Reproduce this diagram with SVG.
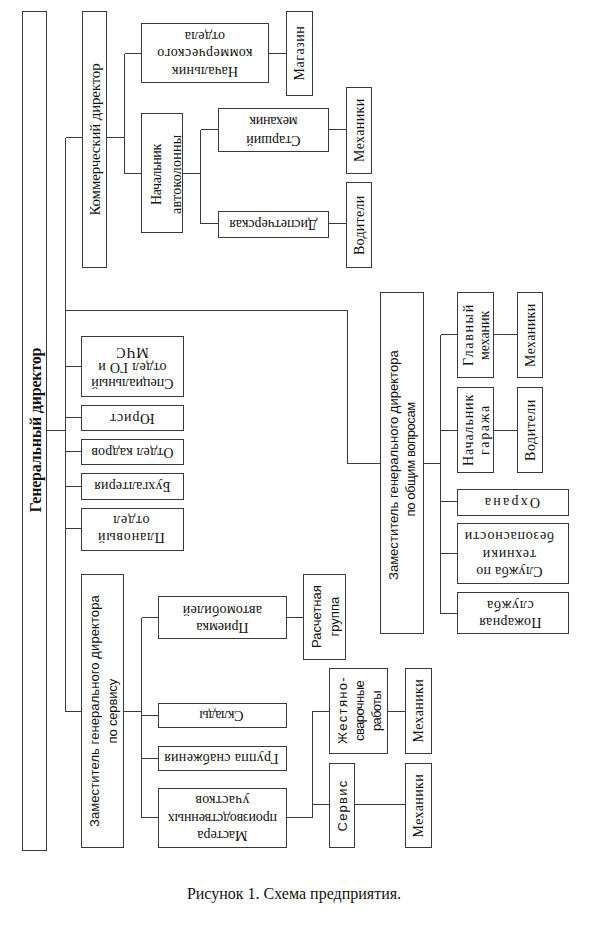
<svg xmlns="http://www.w3.org/2000/svg" width="591" height="932" viewBox="0 0 591 932">
<style>
.bg{fill:#fff}
.b{fill:#fff;stroke:#3a3a3a;stroke-width:1;shape-rendering:crispEdges}
.c{fill:none;stroke:#3a3a3a;stroke-width:1;shape-rendering:crispEdges}
text{font-family:"Liberation Serif","Times New Roman",serif;font-size:14px;fill:#111;text-anchor:middle;dominant-baseline:central;letter-spacing:0.8px}
.s{font-family:"Liberation Sans",Arial,sans-serif;font-size:13px;letter-spacing:0.3px}
.g{font-weight:bold;font-size:16px;letter-spacing:0}
.cap{font-size:16px;letter-spacing:0;dominant-baseline:alphabetic}
</style>
<rect class="bg" x="0" y="0" width="591" height="932"/>
<g id="connectors">
<path class="c" d="M46.5 430.5H65.5M65.5 137.5V711.5M65.5 137.5H82.5M65.5 310.5H347.5V463.5H380.5M65.5 366.5H81.5M65.5 417.5H81.5M65.5 451.5H81.5M65.5 486.5H81.5M65.5 528.5H81.5M65.5 711.5H81.5"/>
<path class="c" d="M106.5 137.5H124.5M124.5 53.5V173.5M124.5 53.5H141.5M124.5 173.5H141.5M268.5 53.5H286.5M182.5 173.5H200.5M200.5 129.5V223.5M200.5 129.5H218.5M200.5 223.5H218.5M328.5 129.5H346.5M328.5 223.5H346.5"/>
<path class="c" d="M423.5 463.5H440.5M440.5 334.5V613.5M440.5 334.5H457.5M440.5 430.5H457.5M440.5 501.5H457.5M440.5 553.5H457.5M440.5 613.5H457.5M493.5 334.5H517.5M493.5 430.5H517.5"/>
<path class="c" d="M123.5 711.5H141.5M141.5 617.5V817.5M141.5 617.5H158.5M141.5 715.5H158.5M141.5 758.5H158.5M141.5 817.5H158.5M286.5 617.5H303.5M286.5 817.5H312.5V711.5H329.5M312.5 804.5H329.5M387.5 711.5H405.5M354.5 804.5H405.5"/>
</g>
<g id="gen-director"><rect class="b" x="22.5" y="11.5" width="24" height="839"/>
<text class="g" transform="translate(35,430) rotate(-90)" textLength="165">Генеральный директор</text></g>
<g id="comm-director"><rect class="b" x="82.5" y="11.5" width="24" height="256"/>
<text transform="translate(95,139) rotate(-90)" textLength="153" style="font-size:15px">Коммерческий директор</text></g>
<g id="head-comm-dept"><rect class="b" x="141.5" y="23.5" width="127" height="59"/>
<g transform="translate(204.5,53.5) rotate(180)"><text y="-17.5" textLength="67">Начальник</text><text y="0" textLength="96">коммерческого</text><text y="17.5" textLength="41">отдела</text></g></g>
<g id="shop"><rect class="b" x="286.5" y="11.5" width="26" height="84"/>
<text transform="translate(299.5,53) rotate(-90)" textLength="55">Магазин</text></g>
<g id="head-autocolumn"><rect class="b" x="141.5" y="113.5" width="41" height="119"/>
<g transform="translate(166.5,174) rotate(-90)"><text y="-10" textLength="62">Начальник</text><text y="10" textLength="80">автоколонны</text></g></g>
<g id="senior-mechanic"><rect class="b" x="218.5" y="108.5" width="110" height="43"/>
<g transform="translate(273,130.5) rotate(180)"><text y="-9.5" textLength="55">Старший</text><text y="9.5" textLength="49">механик</text></g></g>
<g id="dispatch"><rect class="b" x="218.5" y="211.5" width="110" height="26"/>
<text transform="translate(273,224.5) rotate(180)" textLength="89">Диспетчерская</text></g>
<g id="mechanics-1"><rect class="b" x="346.5" y="87.5" width="25" height="86"/>
<text transform="translate(359,130) rotate(-90)" textLength="64">Механики</text></g>
<g id="drivers-1"><rect class="b" x="346.5" y="182.5" width="25" height="85"/>
<text transform="translate(359,225) rotate(-90)" textLength="60">Водители</text></g>
<g id="special-dept"><rect class="b" x="81.5" y="336.5" width="102" height="60"/>
<g transform="translate(132,367.5) rotate(180)"><text y="-15.5" textLength="83">Специальный</text><text y="0" textLength="69">отдел ГО и</text><text y="15.5">МЧС</text></g></g>
<g id="lawyer"><rect class="b" x="81.5" y="405.5" width="102" height="25"/>
<text transform="translate(132,418) rotate(180)">Юрист</text></g>
<g id="hr"><rect class="b" x="81.5" y="439.5" width="102" height="25"/>
<text transform="translate(132,452) rotate(180)" textLength="83">Отдел кадров</text></g>
<g id="accounting"><rect class="b" x="81.5" y="473.5" width="102" height="26"/>
<text transform="translate(132,486.5) rotate(180)" textLength="77">Бухгалтерия</text></g>
<g id="planning"><rect class="b" x="81.5" y="508.5" width="102" height="42"/>
<g transform="translate(131,529) rotate(180)"><text y="-8.5">Плановый</text><text y="8.5">отдел</text></g></g>
<g id="deputy-general"><rect class="b" x="380.5" y="292.5" width="43" height="341"/>
<g transform="translate(401.5,463) rotate(-90)"><text class="s" x="-2" y="-8" textLength="230">Заместитель генерального директора</text><text class="s" x="4" y="8.5" textLength="115">по общим вопросам</text></g></g>
<g id="chief-mechanic"><rect class="b" x="457.5" y="292.5" width="36" height="85"/>
<g transform="translate(476,335) rotate(-90)"><text y="-7.5" textLength="62">Главный</text><text y="8" textLength="50">механик</text></g></g>
<g id="mechanics-2"><rect class="b" x="517.5" y="292.5" width="25" height="85"/>
<text transform="translate(530.5,335) rotate(-90)" textLength="64">Механики</text></g>
<g id="garage-head"><rect class="b" x="457.5" y="387.5" width="36" height="85"/>
<g transform="translate(476,430) rotate(-90)"><text y="-7.5" textLength="72">Начальник</text><text y="8" textLength="50">гаража</text></g></g>
<g id="drivers-2"><rect class="b" x="517.5" y="387.5" width="25" height="85"/>
<text transform="translate(530.5,430) rotate(-90)" textLength="62">Водители</text></g>
<g id="security"><rect class="b" x="457.5" y="489.5" width="111" height="26"/>
<text transform="translate(512,502.5) rotate(180)" textLength="56">Охрана</text></g>
<g id="safety"><rect class="b" x="457.5" y="523.5" width="111" height="60"/>
<g transform="translate(509,554) rotate(180)"><text y="-17.5" textLength="67">Служба по</text><text y="0">техники</text><text y="17.5">безопасности</text></g></g>
<g id="fire"><rect class="b" x="457.5" y="592.5" width="111" height="41"/>
<g transform="translate(510,613.5) rotate(180)"><text y="-8.5" textLength="63">Пожарная</text><text y="8.5">служба</text></g></g>
<g id="deputy-service"><rect class="b" x="81.5" y="574.5" width="42" height="273"/>
<g transform="translate(103,711) rotate(-90)"><text class="s" y="-8.5" textLength="232">Заместитель генерального директора</text><text class="s" y="9" textLength="65">по сервису</text></g></g>
<g id="car-reception"><rect class="b" x="158.5" y="596.5" width="128" height="42"/>
<g transform="translate(222,618.5) rotate(180)"><text y="-8.5" textLength="53">Приемка</text><text y="8.5" textLength="80">автомобилей</text></g></g>
<g id="warehouses"><rect class="b" x="158.5" y="703.5" width="128" height="24"/>
<text transform="translate(221,715.5) rotate(180)" textLength="45">Склады</text></g>
<g id="supply"><rect class="b" x="158.5" y="746.5" width="128" height="24"/>
<text transform="translate(221,758.5) rotate(180)" textLength="115">Группа снабжения</text></g>
<g id="masters"><rect class="b" x="158.5" y="788.5" width="128" height="59"/>
<g transform="translate(222,818) rotate(180)"><text y="-17.5" textLength="51">Мастера</text><text y="0" textLength="110">производственных</text><text y="17.5" textLength="55">участков</text></g></g>
<g id="calc-group"><rect class="b" x="303.5" y="574.5" width="42" height="85"/>
<g transform="translate(325,616.5) rotate(-90)"><text class="s" y="-9" textLength="63">Расчетная</text><text class="s" y="9.5" textLength="40">группа</text></g></g>
<g id="body-welding"><rect class="b" x="329.5" y="668.5" width="58" height="85"/>
<g transform="translate(359,710.5) rotate(-90)"><text class="s" y="-17" textLength="67">Жестяно-</text><text class="s" y="0.5" textLength="61">сварочные</text><text class="s" y="17.5" textLength="41">работы</text></g></g>
<g id="mechanics-3"><rect class="b" x="405.5" y="668.5" width="26" height="85"/>
<text transform="translate(418.5,710.5) rotate(-90)" textLength="64">Механики</text></g>
<g id="service"><rect class="b" x="329.5" y="763.5" width="25" height="84"/>
<text class="s" transform="translate(342,806) rotate(-90)" textLength="51">Сервис</text></g>
<g id="mechanics-4"><rect class="b" x="405.5" y="763.5" width="26" height="84"/>
<text transform="translate(418.5,805.5) rotate(-90)" textLength="64">Механики</text></g>
<text class="cap" x="294" y="899">Рисунок 1. Схема предприятия.</text>
</svg>
